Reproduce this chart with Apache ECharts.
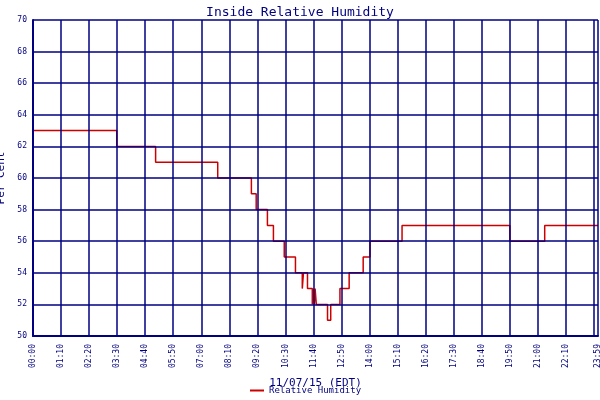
<!DOCTYPE html>
<html><head><meta charset="utf-8">
<script src="https://cdn.jsdelivr.net/npm/echarts@6/dist/echarts.min.js"></script>
<style>html,body{margin:0;padding:0;background:#fff}#c{width:600px;height:400px}</style>
</head><body><div id="c"></div>
<script>
// minutes since midnight where each level starts
const times = [0,209,306,461,545,557,585,600,627,655,672,675,678,685,697,699,702,704,707,710,735,737,743,745,766,789,824,841,921,1190,1277,1410];
const values = [63,62,61,60,59,58,57,56,55,54,53,54,54,53,52,53,52,53,52,52,51,51,52,52,53,54,55,56,57,56,57,57];
const yTicks = [50,52,54,56,58,60,62,64,66,68,70];
const data = times.map((t,i)=>[t,values[i]]);
const navy = '#000080';
const font = 'DejaVu Sans Mono';
function fmt(v){const h=Math.floor(v/60),m=Math.round(v%60);return String(h).padStart(2,'0')+':'+String(m).padStart(2,'0');}
const chart = echarts.init(document.getElementById('c'));
chart.setOption({
  backgroundColor:'#fff', animation:false,
  title:{text:'Inside Relative Humidity',left:'center',top:1,textStyle:{fontFamily:font,fontSize:13,fontWeight:'normal',color:navy}},
  legend:{bottom:0,left:245,itemWidth:14,itemHeight:2,icon:'rect',textStyle:{fontFamily:font,fontSize:9,color:navy},data:['Relative Humidity']},
  grid:{left:33,right:2,top:20,bottom:64,outerBoundsMode:'none',containLabel:false},
  xAxis:{type:'value',min:0,max:1410,interval:70,name:'11/07/15 (EDT)',nameLocation:'middle',nameGap:42,
    nameTextStyle:{fontFamily:font,fontSize:11,color:navy},
    axisLine:{lineStyle:{color:navy,width:2}},axisTick:{show:false},
    axisLabel:{rotate:90,fontFamily:font,fontSize:8,color:navy,formatter:v=>v>=1409?'23:59':fmt(v),showMaxLabel:true,hideOverlap:false},
    splitLine:{show:true,lineStyle:{color:navy,width:1.5}}},
  yAxis:{type:'value',min:yTicks[0],max:yTicks[yTicks.length-1],interval:2,name:'Per Cent',nameLocation:'middle',nameGap:22,
    nameTextStyle:{fontFamily:font,fontSize:11,color:navy},
    axisLine:{show:true,lineStyle:{color:navy,width:2}},axisTick:{show:false},
    axisLabel:{fontFamily:font,fontSize:8,color:navy,margin:6},
    splitLine:{show:true,lineStyle:{color:navy,width:1.5}}},
  series:[{name:'Relative Humidity',type:'line',step:'end',data:data,showSymbol:false,z:-1,
    lineStyle:{color:'#cc0000',width:1.5},itemStyle:{color:'#cc0000'}}]
});
</script></body></html>
